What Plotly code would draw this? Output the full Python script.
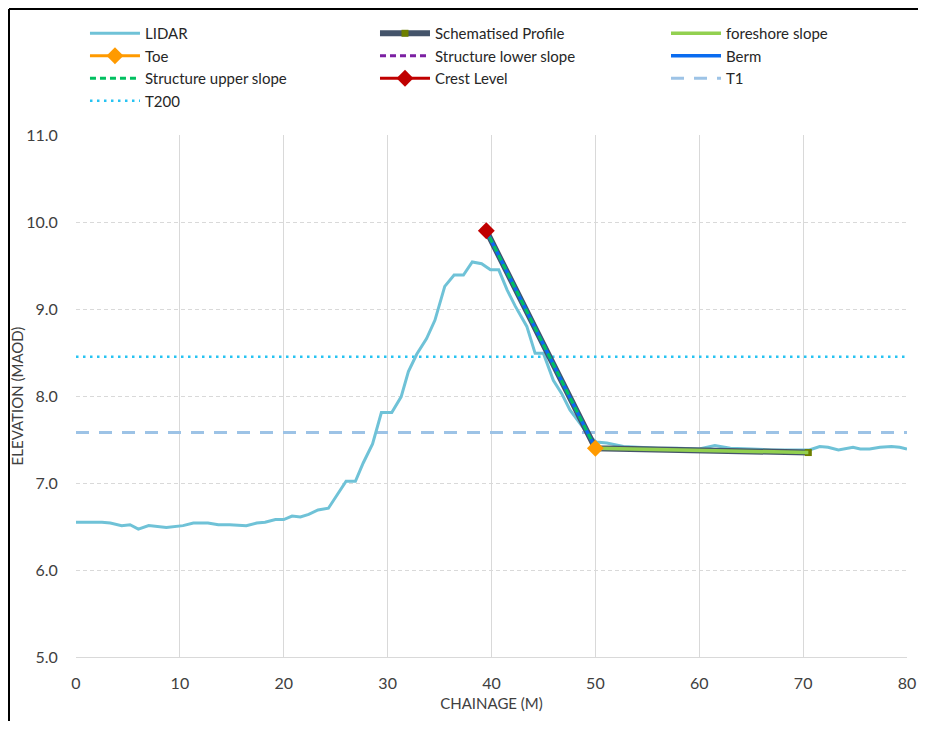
import plotly.graph_objects as go

# ---------------- data ----------------
lidar_chainage = [0, 2.5, 3.3, 4.4, 5.2, 6.0, 7.0, 8.7, 10.3, 11.3, 12.7, 13.7, 14.8, 15.8, 16.4,
                  17.4, 18.2, 19.2, 20.0, 20.8, 21.6, 22.4, 23.3, 24.3, 25.1, 26.0, 26.9, 27.65,
                  28.55, 29.4, 30.4, 31.3, 32.0, 32.8, 33.75, 34.55, 35.5, 36.4, 37.3, 38.15,
                  39.05, 39.9, 40.7, 41.5, 42.3, 43.4, 44.2, 45.0, 45.95, 46.75, 47.55, 48.5,
                  49.5, 50.1, 51.1, 52.7, 54.0, 56.0, 58.0, 60.0, 61.5, 63.0, 65.0, 67.0, 69.0,
                  70.6, 71.6, 72.4, 73.4, 74.2, 74.8, 75.5, 76.4, 77.4, 78.5, 79.3, 80.0]
lidar_elev = [6.55, 6.55, 6.54, 6.51, 6.52, 6.47, 6.51, 6.49, 6.51, 6.54, 6.54, 6.52, 6.52, 6.51, 6.51,
              6.54, 6.55, 6.58, 6.58, 6.62, 6.61, 6.64, 6.69, 6.71, 6.85, 7.02, 7.02, 7.23,
              7.45, 7.81, 7.81, 7.99, 8.28, 8.48, 8.66, 8.87, 9.26, 9.39, 9.39, 9.54,
              9.52, 9.45, 9.45, 9.22, 9.03, 8.80, 8.49, 8.49, 8.18, 8.03, 7.84, 7.69,
              7.53, 7.47, 7.46, 7.42, 7.41, 7.40, 7.40, 7.39, 7.43, 7.40, 7.39, 7.38, 7.38,
              7.38, 7.42, 7.41, 7.38, 7.40, 7.41, 7.39, 7.39, 7.41, 7.42, 7.41, 7.39]

crest_chainage = [39.5]
crest_elev = [9.9]
toe_chainage = [50.0]
toe_elev = [7.4]
foreshore_end_chainage = 70.5
foreshore_end_elev = 7.35

profile_chainage = [crest_chainage[0], toe_chainage[0], foreshore_end_chainage]
profile_elev = [crest_elev[0], toe_elev[0], foreshore_end_elev]
foreshore_chainage = [toe_chainage[0], foreshore_end_chainage]
foreshore_elev = [toe_elev[0], foreshore_end_elev]
slope_chainage = [toe_chainage[0], crest_chainage[0]]
slope_elev = [toe_elev[0], crest_elev[0]]

t1_level = 7.58
t200_level = 8.45
x_range = [0, 80]
y_range = [5, 11]

FONT = "Lato, Carlito, Calibri, sans-serif"

# page has an 8px body margin: figure is sized so the page fits 926x729 exactly
FIG_W, FIG_H = 910, 713
M_L, M_T, M_B = 68, 127, 64
PLOT_W, PLOT_H = 831, 522
M_R = FIG_W - M_L - PLOT_W

fig = go.Figure()

# water levels
fig.add_trace(go.Scatter(x=x_range, y=[t1_level, t1_level], mode="lines", name="T1",
                         line=dict(color="#9DC3E6", width=3, dash="13px,10px"),
                         legend="legend3", legendrank=3))
fig.add_trace(go.Scatter(x=x_range, y=[t200_level, t200_level], mode="lines", name="T200",
                         line=dict(color="#27C3F2", width=2.5, dash="2.5px,4.5px"),
                         legend="legend", legendrank=4))
# LIDAR
fig.add_trace(go.Scatter(x=lidar_chainage, y=lidar_elev, mode="lines", name="LIDAR",
                         line=dict(color="#6FC2D7", width=3),
                         legend="legend", legendrank=1))
# Schematised profile
fig.add_trace(go.Scatter(x=profile_chainage, y=profile_elev, mode="lines+markers",
                         name="Schematised Profile",
                         line=dict(color="#44546A", width=6),
                         marker=dict(symbol="square", color="#6E7F00", size=7),
                         legend="legend2", legendrank=1))
# foreshore slope
fig.add_trace(go.Scatter(x=foreshore_chainage, y=foreshore_elev, mode="lines",
                         name="foreshore slope",
                         line=dict(color="#92D050", width=3.5),
                         legend="legend3", legendrank=1))
# structure slopes
fig.add_trace(go.Scatter(x=slope_chainage, y=slope_elev, mode="lines",
                         name="Structure lower slope",
                         line=dict(color="#7B1FA2", width=3, dash="6px,4px"),
                         legend="legend2", legendrank=2))
fig.add_trace(go.Scatter(x=slope_chainage, y=slope_elev, mode="lines", name="Berm",
                         line=dict(color="#0A6CF0", width=3.5),
                         legend="legend3", legendrank=2))
fig.add_trace(go.Scatter(x=slope_chainage, y=slope_elev, mode="lines",
                         name="Structure upper slope",
                         line=dict(color="#00C060", width=3, dash="6px,4px"),
                         legend="legend", legendrank=3))
# Toe and crest
fig.add_trace(go.Scatter(x=toe_chainage, y=toe_elev, mode="lines+markers", name="Toe",
                         line=dict(color="#FF9A00", width=3),
                         marker=dict(symbol="diamond", color="#FF9A00", size=13),
                         legend="legend", legendrank=2))
fig.add_trace(go.Scatter(x=crest_chainage, y=crest_elev, mode="lines+markers", name="Crest Level",
                         line=dict(color="#C00000", width=3),
                         marker=dict(symbol="diamond", color="#C00000", size=13),
                         legend="legend2", legendrank=3))

leg_common = dict(orientation="v", xanchor="left", yanchor="top", y=1.226,
                  itemwidth=50,
                  font=dict(family=FONT, size=15, color="#262626"),
                  bgcolor="rgba(0,0,0,0)", tracegroupgap=0, traceorder="normal")

# outer chart frame (left and top edges only are visible in the picture)
frame_left = (1 - M_L) / PLOT_W
frame_top = (M_T + PLOT_H - 1) / PLOT_H
frame_right = (FIG_W + 20 - M_L) / PLOT_W
frame_bottom = -(M_B + 20) / PLOT_H

fig.update_layout(
    width=FIG_W, height=FIG_H,
    margin=dict(l=M_L, r=M_R, t=M_T, b=M_B, autoexpand=False),
    paper_bgcolor="white", plot_bgcolor="white",
    font=dict(family=FONT, size=16, color="#595959"),
    legend=dict(x=0.0108, **leg_common),
    legend2=dict(x=0.3598, **leg_common),
    legend3=dict(x=0.710, **leg_common),
    xaxis=dict(range=x_range, dtick=10, tick0=0, showgrid=True, gridcolor="#D9D9D9",
               gridwidth=1, zeroline=False, showline=True, linecolor="#D9D9D9", linewidth=1,
               ticks="outside", ticklen=12, tickcolor="rgba(0,0,0,0)",
               tickfont=dict(family=FONT, size=16, color="#404040"),
               title=dict(text="CHAINAGE (M)", standoff=7,
                          font=dict(family=FONT, size=15, color="#404040"))),
    yaxis=dict(range=y_range, dtick=1, tick0=5, tickformat=".1f", showgrid=True,
               gridcolor="#D9D9D9", gridwidth=1, griddash="4px,3px", zeroline=False,
               showline=False,
               ticks="outside", ticklen=14, tickcolor="rgba(0,0,0,0)",
               tickfont=dict(family=FONT, size=16, color="#404040"),
               title=dict(text="ELEVATION (MAOD)", standoff=4,
                          font=dict(family=FONT, size=15, color="#404040"))),
    shapes=[
        dict(type="line", xref="paper", yref="paper",
             x0=frame_left, x1=frame_left, y0=frame_bottom, y1=frame_top,
             line=dict(color="black", width=2), layer="above"),
        dict(type="line", xref="paper", yref="paper",
             x0=frame_left, x1=frame_right, y0=frame_top, y1=frame_top,
             line=dict(color="black", width=2), layer="above"),
    ],
)

fig.write_html("out.html")
